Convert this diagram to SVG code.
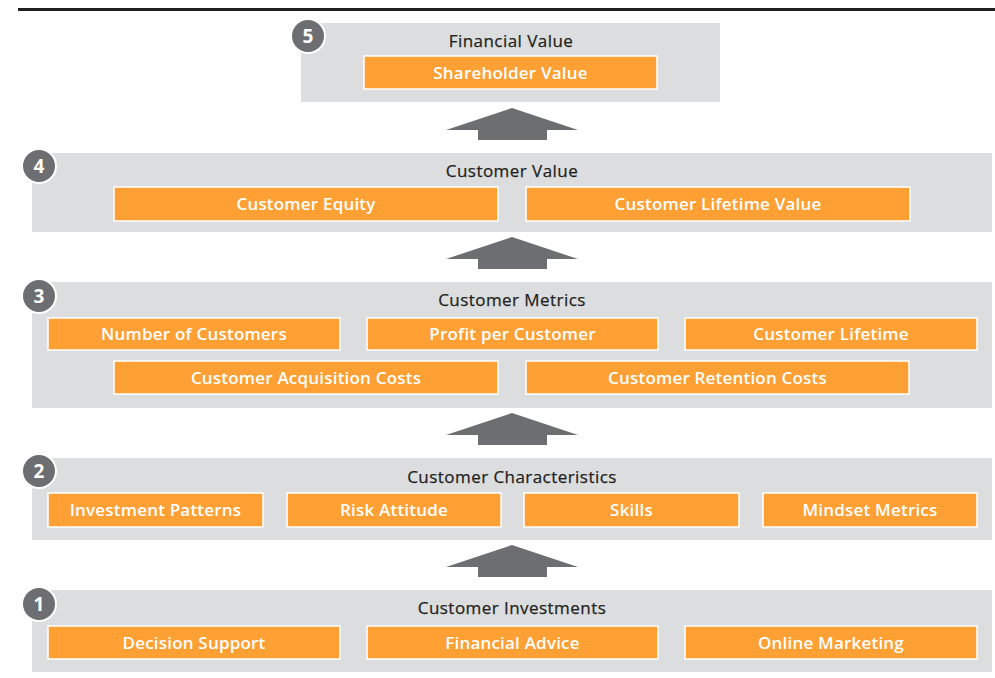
<svg xmlns="http://www.w3.org/2000/svg" width="995" height="678" viewBox="0 0 995 678">
  <style>
    .layer { fill: #dcdddf; }
    .item { fill: #fea033; stroke: #ffffff; stroke-width: 1.5; }
    .title { font-family: "Open Sans", "Liberation Sans", sans-serif; font-size: 17px; letter-spacing: 0.45px; fill: #231f20; stroke: #231f20; stroke-width: 0.25; text-anchor: middle; }
    .label { font-family: "Open Sans", "Liberation Sans", sans-serif; font-size: 17px; font-weight: 600; letter-spacing: 0.2px; fill: #ffffff; text-anchor: middle; }
    .badge { fill: #6d6e71; stroke: #ffffff; stroke-width: 2; }
    .num { font-family: "Open Sans", "Liberation Sans", sans-serif; font-size: 19px; font-weight: bold; fill: #ffffff; text-anchor: middle; }
    .up { fill: #6d6e71; }
  </style>
  <defs>
    <path id="uparrow" class="up" d="M0,0 L66,22 L35,22 L35,32 L-34,32 L-34,22 L-66,22 Z"/>
  </defs>

  <rect x="18" y="8" width="977" height="3" fill="#231f20"/>

  <!-- connectors between layers -->
  <g id="connectors">
    <use href="#uparrow" x="512" y="108"/>
    <use href="#uparrow" x="512" y="237"/>
    <use href="#uparrow" x="512" y="413"/>
    <use href="#uparrow" x="512" y="545"/>
  </g>

  <!-- 5: Financial Value -->
  <g id="layer5">
    <rect class="layer" x="301" y="23" width="419" height="79"/>
    <text class="title" x="511" y="47">Financial Value</text>
    <rect class="item" x="364" y="56" width="293" height="33"/>
    <text class="label" x="510.5" y="78.5">Shareholder Value</text>
    <circle class="badge" cx="308" cy="36" r="17"/>
    <text class="num" x="308" y="43">5</text>
  </g>

  <!-- 4: Customer Value -->
  <g id="layer4">
    <rect class="layer" x="32" y="153" width="960" height="79"/>
    <text class="title" x="512" y="177">Customer Value</text>
    <rect class="item" x="114" y="187" width="384" height="34"/>
    <text class="label" x="306" y="210">Customer Equity</text>
    <rect class="item" x="526" y="187" width="384" height="34"/>
    <text class="label" x="718" y="210">Customer Lifetime Value</text>
    <circle class="badge" cx="39" cy="166" r="17"/>
    <text class="num" x="39" y="173">4</text>
  </g>

  <!-- 3: Customer Metrics -->
  <g id="layer3">
    <rect class="layer" x="32" y="282" width="960" height="126"/>
    <text class="title" x="512" y="306">Customer Metrics</text>
    <rect class="item" x="48" y="318" width="292" height="32"/>
    <text class="label" x="194" y="340">Number of Customers</text>
    <rect class="item" x="367" y="318" width="291" height="32"/>
    <text class="label" x="512.5" y="340">Profit per Customer</text>
    <rect class="item" x="685" y="318" width="292" height="32"/>
    <text class="label" x="831" y="340">Customer Lifetime</text>
    <rect class="item" x="114" y="361" width="384" height="33"/>
    <text class="label" x="306" y="383.5">Customer Acquisition Costs</text>
    <rect class="item" x="526" y="361" width="383" height="33"/>
    <text class="label" x="717.5" y="383.5">Customer Retention Costs</text>
    <circle class="badge" cx="39" cy="296" r="17"/>
    <text class="num" x="39" y="303">3</text>
  </g>

  <!-- 2: Customer Characteristics -->
  <g id="layer2">
    <rect class="layer" x="32" y="458" width="960" height="82"/>
    <text class="title" x="512" y="483">Customer Characteristics</text>
    <rect class="item" x="48" y="493" width="215" height="34"/>
    <text class="label" x="155.5" y="516">Investment Patterns</text>
    <rect class="item" x="287" y="493" width="214" height="34"/>
    <text class="label" x="394" y="516">Risk Attitude</text>
    <rect class="item" x="524" y="493" width="215" height="34"/>
    <text class="label" x="631.5" y="516">Skills</text>
    <rect class="item" x="763" y="493" width="214" height="34"/>
    <text class="label" x="870" y="516">Mindset Metrics</text>
    <circle class="badge" cx="39" cy="471" r="17"/>
    <text class="num" x="39" y="478">2</text>
  </g>

  <!-- 1: Customer Investments -->
  <g id="layer1">
    <rect class="layer" x="32" y="590" width="960" height="82"/>
    <text class="title" x="512" y="614">Customer Investments</text>
    <rect class="item" x="48" y="626" width="292" height="33"/>
    <text class="label" x="194" y="648.5">Decision Support</text>
    <rect class="item" x="367" y="626" width="291" height="33"/>
    <text class="label" x="512.5" y="648.5">Financial Advice</text>
    <rect class="item" x="685" y="626" width="292" height="33"/>
    <text class="label" x="831" y="648.5">Online Marketing</text>
    <circle class="badge" cx="39" cy="604" r="17"/>
    <text class="num" x="39" y="611">1</text>
  </g>
</svg>
